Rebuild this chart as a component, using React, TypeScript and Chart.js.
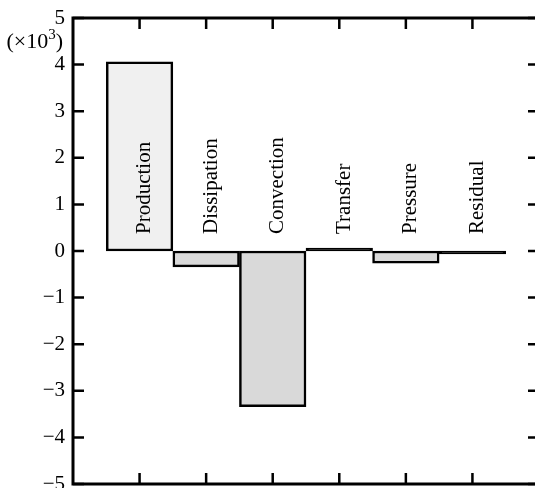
import { useEffect, useRef } from 'react'
import { Chart, registerables } from 'chart.js'

Chart.register(...registerables)

// budget terms, values in units of 10^3
const categories = ['Production', 'Dissipation', 'Convection', 'Transfer', 'Pressure', 'Residual']
const values = [4.06, -0.34, -3.34, 0.06, -0.26, -0.06]
// near-zero bars collapse to their black outline
const fills = ['#f0f0f0', '#d9d9d9', '#d9d9d9', '#000000', '#d9d9d9', '#000000']

const serif = '"Liberation Serif", "Times New Roman", serif'

const framePlugin = {
  id: 'frame',
  afterDatasetsDraw(chart: any) {
    const { ctx, chartArea: a, scales } = chart
    const x = scales.x
    const y = scales.y
    ctx.save()
    ctx.strokeStyle = '#000'

    // frame
    ctx.lineWidth = 3
    ctx.strokeRect(a.left, a.top, a.right - a.left, a.bottom - a.top)

    // inward ticks
    ctx.lineWidth = 2.5
    ctx.beginPath()
    y.ticks.forEach((t: any) => {
      const py = y.getPixelForValue(t.value)
      ctx.moveTo(a.left, py)
      ctx.lineTo(a.left + 11, py)
      ctx.moveTo(a.right - 11, py)
      ctx.lineTo(a.right, py)
    })
    categories.forEach((_, i) => {
      const px = x.getPixelForValue(i + 1)
      ctx.moveTo(px, a.top)
      ctx.lineTo(px, a.top + 11)
      ctx.moveTo(px, a.bottom)
      ctx.lineTo(px, a.bottom - 11)
    })
    ctx.stroke()

    // rotated category labels above the zero line
    const base = y.getPixelForValue(0) - 17
    ctx.fillStyle = '#000'
    ctx.font = `21px ${serif}`
    ctx.textAlign = 'left'
    ctx.textBaseline = 'middle'
    categories.forEach((c, i) => {
      const px = x.getPixelForValue(i + 1)
      ctx.save()
      ctx.translate(px + 5, base)
      ctx.rotate(-Math.PI / 2)
      ctx.fillText(c, 0, 0)
      ctx.restore()
    })

    // (×10³) multiplier
    const rx = a.left - 10
    const ry = a.top + 24
    ctx.textAlign = 'right'
    ctx.textBaseline = 'middle'
    ctx.font = `22px ${serif}`
    const wClose = ctx.measureText(')').width
    ctx.fillText(')', rx, ry)
    ctx.font = `15px ${serif}`
    const wSup = ctx.measureText('3').width
    ctx.fillText('3', rx - wClose, ry - 7)
    ctx.font = `22px ${serif}`
    ctx.fillText('(×10', rx - wClose - wSup, ry)
    ctx.restore()
  }
}

export default function App() {
  const chartRef = useRef<HTMLCanvasElement>(null)
  const chartInstance = useRef<Chart | null>(null)

  useEffect(() => {
    if (!chartRef.current) return
    if (chartInstance.current) chartInstance.current.destroy()

    chartInstance.current = new Chart(chartRef.current, {
      type: 'bar',
      data: {
        labels: ['', ...categories, ''],
        datasets: [
          {
            data: [null, ...values, null],
            backgroundColor: ['#fff', ...fills, '#fff'],
            borderColor: '#000',
            borderWidth: 2.5,
            borderSkipped: false,
            barPercentage: 1,
            categoryPercentage: 1
          }
        ]
      },
      options: {
        responsive: true,
        maintainAspectRatio: false,
        animation: false,
        layout: { padding: { top: 18, right: 6, bottom: 16, left: 0 } },
        plugins: {
          legend: { display: false },
          tooltip: { enabled: false }
        },
        scales: {
          x: {
            display: false,
            offset: false
          },
          y: {
            min: -5,
            max: 5,
            afterFit: (s: any) => { s.width = 73 },
            grid: { display: false },
            border: { display: false },
            ticks: {
              stepSize: 1,
              padding: 0,
              color: '#000',
              font: { family: serif, size: 21 },
              callback: (v: any) => (Number(v) < 0 ? '−' + Math.abs(Number(v)) : String(v))
            }
          }
        }
      },
      plugins: [framePlugin]
    })

    return () => {
      if (chartInstance.current) {
        chartInstance.current.destroy()
        chartInstance.current = null
      }
    }
  }, [])

  return (
    <div style={{ position: 'fixed', left: 0, top: 0, width: 535, height: 488, overflow: 'hidden', background: '#fff' }}>
      <div style={{ position: 'relative', width: 545, height: 500 }}>
        <canvas ref={chartRef}></canvas>
      </div>
    </div>
  )
}
